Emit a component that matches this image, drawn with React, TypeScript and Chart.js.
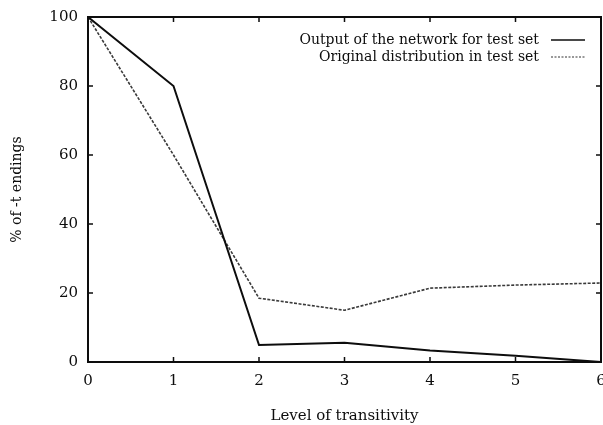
import React, { useEffect, useRef } from "react";
import { Chart, registerables } from "chart.js";

Chart.register(...registerables);

const levels = [0, 1, 2, 3, 4, 5, 6];
const networkOutput = [100, 80, 4.9, 5.6, 3.3, 1.8, 0];
const originalDistribution = [100, 60, 18.5, 15, 21.4, 22.3, 22.9];
const yTicks = [0, 20, 40, 60, 80, 100];
const seriesLabels = ["Output of the network for test set", "Original distribution in test set"];
const xTitle = "Level of transitivity";
const yTitle = "% of -t endings";

const FONT = "'DejaVu Serif', 'Liberation Serif', serif";
const INK = "#0d0d0d";

const framePlugin = {
  id: "gnuplotFrame",
  afterDatasetsDraw(chart: any) {
    const { ctx, chartArea: a, scales } = chart;
    const xs = scales.x;
    const ys = scales.y;
    ctx.save();
    ctx.strokeStyle = INK;
    ctx.lineWidth = 2;
    ctx.strokeRect(a.left, a.top, a.right - a.left, a.bottom - a.top);
    ctx.lineWidth = 1.5;
    const t = 5;
    levels.forEach((v) => {
      const x = xs.getPixelForValue(v);
      ctx.beginPath();
      ctx.moveTo(x, a.bottom);
      ctx.lineTo(x, a.bottom - t);
      ctx.moveTo(x, a.top);
      ctx.lineTo(x, a.top + t);
      ctx.stroke();
    });
    yTicks.forEach((v) => {
      const y = ys.getPixelForValue(v);
      ctx.beginPath();
      ctx.moveTo(a.left, y);
      ctx.lineTo(a.left + t, y);
      ctx.moveTo(a.right, y);
      ctx.lineTo(a.right - t, y);
      ctx.stroke();
    });
    // legend
    ctx.font = `14px ${FONT}`;
    ctx.fillStyle = INK;
    ctx.textAlign = "right";
    ctx.textBaseline = "middle";
    const rows = [
      { y: 40, dash: [] as number[], w: 1.5, c: INK },
      { y: 57, dash: [2, 1.5], w: 1.2, c: "#333" },
    ];
    rows.forEach((r, i) => {
      ctx.fillText(seriesLabels[i], 539, r.y);
      ctx.beginPath();
      ctx.setLineDash(r.dash);
      ctx.lineWidth = r.w;
      ctx.strokeStyle = r.c;
      ctx.moveTo(551, r.y);
      ctx.lineTo(585, r.y);
      ctx.stroke();
    });
    ctx.setLineDash([]);
    ctx.restore();
  },
};

export default function App() {
  const ref = useRef<HTMLCanvasElement>(null);
  useEffect(() => {
    if (!ref.current) return;
    const chart = new Chart(ref.current, {
      type: "line",
      data: {
        datasets: [
          {
            label: seriesLabels[0],
            data: levels.map((x, i) => ({ x, y: networkOutput[i] })),
            borderColor: INK,
            borderWidth: 2,
            pointRadius: 0,
            tension: 0,
          },
          {
            label: seriesLabels[1],
            data: levels.map((x, i) => ({ x, y: originalDistribution[i] })),
            borderColor: "#3a3a3a",
            borderWidth: 1.6,
            borderDash: [3, 1.5],
            pointRadius: 0,
            tension: 0,
          },
        ],
      },
      options: {
        animation: false,
        responsive: false,
        maintainAspectRatio: false,
        layout: { padding: { left: 0, right: 2, top: 17, bottom: 0 } },
        plugins: { legend: { display: false }, tooltip: { enabled: false } },
        scales: {
          x: {
            type: "linear",
            min: 0,
            max: 6,
            afterBuildTicks: (s: any) => {
              s.ticks = levels.map((v) => ({ value: v }));
            },
            afterFit: (s: any) => {
              s.height = 63;
              s.paddingLeft = 0;
              s.paddingRight = 0;
            },
            grid: { display: false, drawTicks: false },
            border: { display: false },
            ticks: {
              color: INK,
              font: { family: FONT, size: 15 },
              padding: 10,
              maxRotation: 0,
              autoSkip: false,
            },
            title: {
              display: true,
              text: xTitle,
              color: INK,
              font: { family: FONT, size: 15 },
              padding: { top: 15, bottom: 0 },
            },
          },
          y: {
            type: "linear",
            min: 0,
            max: 100,
            afterBuildTicks: (s: any) => {
              s.ticks = yTicks.map((v) => ({ value: v }));
            },
            afterFit: (s: any) => {
              s.width = 88;
              s.paddingTop = 0;
              s.paddingBottom = 0;
            },
            grid: { display: false, drawTicks: false },
            border: { display: false },
            ticks: {
              color: INK,
              font: { family: FONT, size: 15 },
              padding: 10,
            },
            title: {
              display: true,
              text: yTitle,
              color: INK,
              font: { family: FONT, size: 14 },
              padding: { top: 9, bottom: 6 },
            },
          },
        },
      },
      plugins: [framePlugin],
    });
    return () => chart.destroy();
  }, []);
  return (
    <div style={{ position: "absolute", left: 0, top: 0, width: 603, height: 425, background: "#fff" }}>
      <canvas ref={ref} width={603} height={425} style={{ width: 603, height: 425, display: "block" }} />
    </div>
  );
}
